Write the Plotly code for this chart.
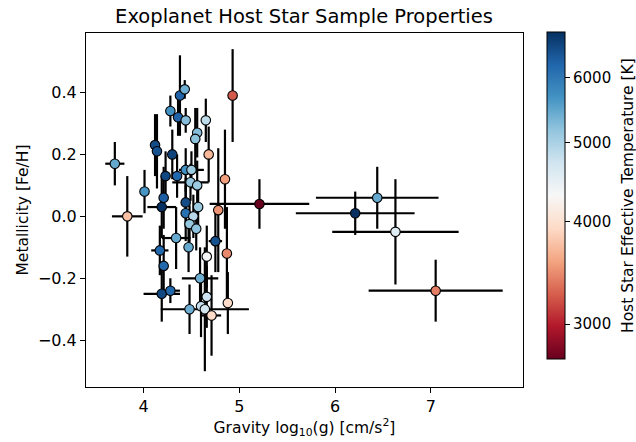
import numpy as np
import plotly.graph_objects as go

# Data: surface gravity log10(g), metallicity [Fe/H], uncertainties, effective temperature
logg = [3.70, 3.83, 4.01, 4.12, 4.14, 4.30, 4.23, 4.35, 4.21, 4.19,
        4.28, 4.36, 4.38, 4.43, 4.44, 4.56, 4.54, 4.65, 4.68, 4.44,
        4.50, 4.49, 4.56, 4.44, 4.57, 4.44, 4.52, 4.85, 4.78, 4.93,
        5.21, 6.44, 6.21, 6.63, 7.05, 4.48, 4.55, 4.34, 4.47, 4.75,
        4.17, 4.66, 4.87, 4.21, 4.59, 4.19, 4.28, 4.66, 4.88, 4.48,
        4.60, 4.64, 4.71]
feh = [0.17, 0.00, 0.08, 0.23, 0.21, 0.20, 0.13, 0.13, 0.06, 0.03,
       0.34, 0.32, 0.39, 0.41, 0.31, 0.27, 0.25, 0.31, 0.20, 0.15,
       0.15, 0.11, 0.10, 0.045, 0.03, 0.01, 0.00, 0.12, 0.02, 0.39,
       0.04, 0.06, 0.01, -0.05, -0.24, -0.025, -0.04, -0.07, -0.10, -0.08,
       -0.11, -0.13, -0.12, -0.16, -0.20, -0.25, -0.24, -0.26, -0.28, -0.30,
       -0.29, -0.30, -0.32]
logg_err = [0.10, 0.16, 0.00, 0.00, 0.00, 0.00, 0.00, 0.00, 0.00, 0.15,
            0.00, 0.00, 0.00, 0.00, 0.00, 0.00, 0.00, 0.00, 0.00, 0.00,
            0.13, 0.19, 0.00, 0.00, 0.05, 0.00, 0.00, 0.00, 0.00, 0.00,
            0.52, 0.64, 0.62, 0.66, 0.70, 0.00, 0.00, 0.15, 0.00, 0.07,
            0.09, 0.00, 0.00, 0.00, 0.19, 0.19, 0.10, 0.00, 0.00, 0.00,
            0.00, 0.46, 0.10]
feh_err = [0.07, 0.13, 0.07, 0.10, 0.12, 0.08, 0.08, 0.07, 0.10, 0.10,
           0.05, 0.06, 0.13, 0.03, 0.04, 0.08, 0.10, 0.07, 0.09, 0.07,
           0.06, 0.06, 0.08, 0.08, 0.06, 0.09, 0.07, 0.16, 0.20, 0.15,
           0.08, 0.10, 0.07, 0.17, 0.10, 0.06, 0.07, 0.10, 0.08, 0.10,
           0.08, 0.10, 0.15, 0.10, 0.10, 0.09, 0.04, 0.10, 0.10, 0.08,
           0.10, 0.20, 0.13]
teff = [5450, 3750, 5650, 6500, 6450, 6600, 6550, 6200, 6300, 6820,
        5700, 6250, 6250, 5400, 5250, 5250, 5200, 4850, 3700, 5700,
        5100, 5150, 5100, 6500, 5100, 6100, 4900, 3550, 3500, 3250,
        2720, 5450, 6820, 4550, 3400, 5150, 5200, 5450, 5450, 6450,
        6200, 4350, 3450, 6200, 5400, 6550, 6200, 4750, 3950, 5400,
        4800, 4700, 3950]

cbar_ticks = [3000, 4000, 5000, 6000]
x_ticks = [4, 5, 6, 7]
y_ticks = [-0.4, -0.2, 0.0, 0.2, 0.4]

# matplotlib RdBu colormap
rdbu = ["#67001f", "#b2182b", "#d6604d", "#f4a582", "#fddbc7", "#f7f7f7",
        "#d1e5f0", "#92c5de", "#4393c3", "#2166ac", "#053061"]
colorscale = [[i / 10, c] for i, c in enumerate(rdbu)]

logT = np.log10(teff)
font = "DejaVu Sans"

fig = go.Figure()
fig.add_trace(go.Scatter(
    x=logg, y=feh, mode="markers",
    error_x=dict(type="data", array=logg_err, visible=True, color="black", thickness=2.2, width=0),
    error_y=dict(type="data", array=feh_err, visible=True, color="black", thickness=2.2, width=0),
    marker=dict(
        size=9.5, color=logT, colorscale=colorscale,
        cmin=float(logT.min()), cmax=float(logT.max()),
        line=dict(color="black", width=1.1),
        colorbar=dict(
            x=1.055, xanchor="left", xref="paper", xpad=0, ypad=0,
            y=1.003, yanchor="top", len=327, lenmode="pixels",
            thickness=18, outlinewidth=1, outlinecolor="black",
            ticks="outside", ticklen=5, tickcolor="black",
            tickvals=list(np.log10(cbar_ticks)), ticktext=[str(t) for t in cbar_ticks],
            tickfont=dict(family=font, size=15, color="black"),
        ),
    ),
    showlegend=False,
    hoverinfo="skip",
))

fig.add_annotation(
    text="Host Star Effective Temperature [K]", textangle=-90,
    xref="paper", yref="paper", x=1.2403, y=0.5395,
    xanchor="center", yanchor="middle", showarrow=False,
    font=dict(family=font, size=15.5, color="black"),
)

axis_common = dict(showline=True, mirror=True, linecolor="black", linewidth=1,
                   ticks="outside", ticklen=5, tickcolor="black", showgrid=False,
                   zeroline=False, tickfont=dict(family=font, size=16, color="black"))

fig.update_layout(
    width=636, height=442,
    margin=dict(l=86, r=113, t=33, b=55, autoexpand=False),
    paper_bgcolor="white", plot_bgcolor="white",
    font=dict(family=font, color="black"),
    title=dict(text="Exoplanet Host Star Sample Properties", x=0.478, xanchor="center",
               y=1 - 16 / 442, yanchor="middle", yref="container",
               font=dict(family=font, size=19.5, color="black")),
    xaxis=dict(range=[3.399, 7.962], tickvals=x_ticks, ticktext=[str(t) for t in x_ticks],
               title=dict(text="Gravity log<sub>10</sub>(g) [cm/s<sup>2</sup>]",
                          font=dict(family=font, size=15.5, color="black"), standoff=5),
               **axis_common),
    yaxis=dict(range=[-0.551, 0.592], tickvals=y_ticks,
               ticktext=[("−" if t < 0 else "") + f"{abs(t):.1f}" for t in y_ticks],
               title=dict(text="Metallicity [Fe/H]",
                          font=dict(family=font, size=15.5, color="black"), standoff=5),
               **axis_common),
)

fig.write_html("out.html", config={"displayModeBar": False},
               post_script="document.body.style.margin='0';")
